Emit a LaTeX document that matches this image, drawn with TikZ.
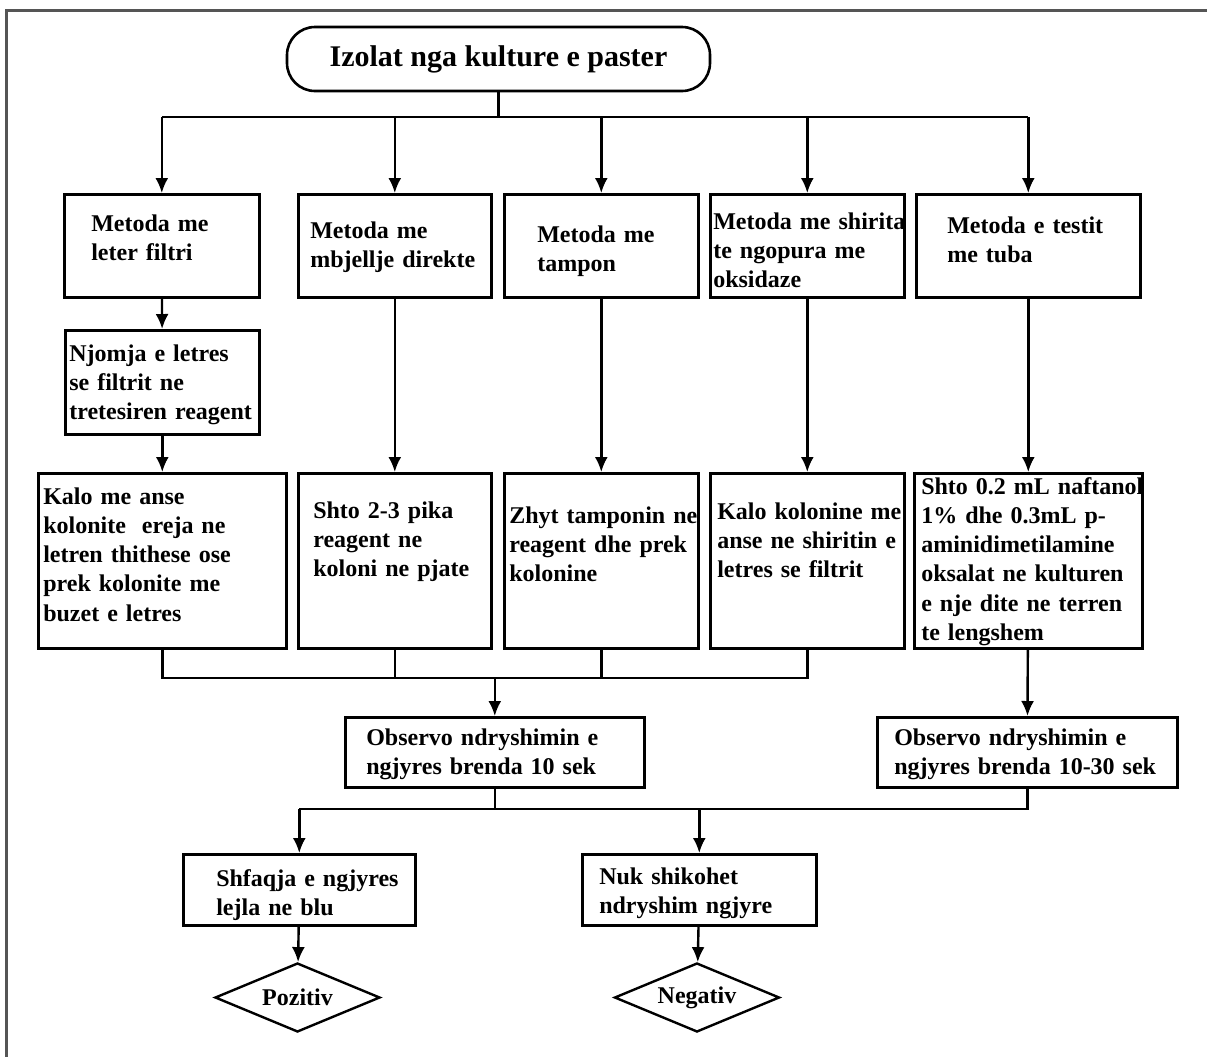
\documentclass[tikz,border=0pt]{standalone}
\usepackage{fontspec}
\setmainfont{Liberation Serif}
\usepackage{tikz}
\usetikzlibrary{positioning,calc,shapes.geometric,arrows.meta}
\definecolor{FrameGray}{RGB}{85,85,85}
\tikzset{
    flowline/.style={draw=black, line width=1.2pt},
    flowarrow/.style={flowline, -{Latex[length=7.5pt,width=6.5pt]}}
}

\begin{document}
\begin{tikzpicture}[
    x=0.5pt, y=-0.5pt,
    procbox/.style={
        rectangle,
        draw=black,
        line width=1.3pt,
        anchor=north west,
        align=left,
        inner ysep=0pt,
        execute at begin node={\hyphenpenalty=10000\exhyphenpenalty=10000},
        font=\bfseries\fontsize{12pt}{14.6pt}\selectfont
    },
    startnode/.style={
        rectangle,
        rounded corners=14pt,
        draw=black,
        line width=1.3pt,
        minimum width=211.5pt,
        minimum height=32pt,
        font=\bfseries\fontsize{15pt}{18pt}\selectfont
    },
    resultnode/.style={
        diamond,
        aspect=2.4,
        draw=black,
        line width=1.2pt,
        inner sep=0pt,
        minimum width=82.5pt,
        minimum height=34.5pt,
        font=\bfseries\fontsize{12pt}{14pt}\selectfont
    }
]
    \useasboundingbox (0,0) rectangle (1207,1057);
    \draw[FrameGray, line width=1.5pt] (1207,10) -- (6,10) -- (6,1057);

    % start
    \node[startnode] (isolate) at (498.5,59) {Izolat nga kulture e paster};

    % methods
    \node[procbox, text width=70.5pt, inner xsep=13.5pt, text height=18.5pt, text depth=33pt] (m1) at (63,193) {Metoda me\\leter filtri};
    \node[procbox, text width=84.5pt, inner xsep=6pt, text height=22pt, text depth=29.5pt] (m2) at (297,193) {Metoda me\\mbjellje direkte};
    \node[procbox, text width=64pt, inner xsep=16.5pt, text height=24pt, text depth=27.5pt] (m3) at (503,193) {Metoda me\\tampon};
    \node[procbox, text width=94pt, inner xsep=1.5pt, text height=17.5pt, text depth=34pt] (m4) at (709,193) {\mbox{Metoda me shirita}\\te ngopura me\\oksidaze};
    \node[procbox, text width=81pt, inner xsep=15.5pt, text height=19.5pt, text depth=32pt] (m5) at (915,193) {Metoda e testit\\me tuba};

    \node[procbox, text width=93pt, inner xsep=2pt, text height=15.5pt, text depth=36.5pt] (soak) at (64,329) {Njomja e letres\\se filtrit ne\\\mbox{tretesiren reagent}};

    % steps
    \node[procbox, text width=119pt, inner xsep=2.5pt, text height=15.5pt, text depth=72pt] (k1) at (37,472) {Kalo me anse\\kolonite~ ereja ne\\letren thithese ose\\prek kolonite me\\buzet e letres};
    \node[procbox, text width=81.5pt, inner xsep=7.5pt, text height=22.5pt, text depth=65pt] (k2) at (297,472) {Shto 2-3 pika\\reagent ne\\koloni ne pjate};
    \node[procbox, text width=92pt, inner xsep=2.5pt, text height=25pt, text depth=62.5pt] (k3) at (503,472) {\mbox{Zhyt tamponin ne}\\reagent dhe prek\\kolonine};
    \node[procbox, text width=90pt, inner xsep=3.5pt, text height=23pt, text depth=64.5pt] (k4) at (709,472) {\mbox{Kalo kolonine me}\\\mbox{anse ne shiritin e}\\letres se filtrit};
    \node[procbox, text width=107pt, inner xsep=3.5pt, text height=10.5pt, text depth=77pt] (k5) at (913,472) {\mbox{Shto 0.2 mL naftanol}\\1\% dhe 0.3mL p-\\aminidimetilamine\\oksalat ne kulturen\\e nje dite ne terren\\te lengshem};

    % observe
    \node[procbox, text width=128.5pt, inner xsep=10.5pt, text height=14pt, text depth=21pt] (obs1) at (344,716) {Observo ndryshimin e\\ngjyres brenda 10 sek};
    \node[procbox, text width=133pt, inner xsep=8.5pt, text height=14pt, text depth=21pt] (obs2) at (876,716) {Observo ndryshimin e\\\mbox{ngjyres brenda 10-30 sek}};

    % outcome
    \node[procbox, text width=83pt, inner xsep=16.5pt, text height=16pt, text depth=19.5pt] (blue) at (182,853) {\mbox{Shfaqja e ngjyres}\\lejla ne blu};
    \node[procbox, text width=100pt, inner xsep=8.5pt, text height=15pt, text depth=20.5pt] (nochange) at (581,853) {Nuk shikohet\\ndryshim ngjyre};

    \node[resultnode] (pos) at (297.5,997.5) {Pozitiv};
    \node[resultnode] (neg) at (697,997.5) {Negativ};

    % junctions
    \coordinate (hub1) at (0,117);
    \coordinate (hub2) at (0,678);
    \coordinate (hub3) at (0,809);

    \draw[flowline] (isolate.south) -- (isolate.south |- hub1);
    \draw[flowline] (m1 |- hub1) -- (m5 |- hub1);
    \foreach \n in {m1,m2,m3,m4,m5}
        \draw[flowarrow] (\n |- hub1) -- (\n.north);

    \draw[flowarrow] (m1) -- (soak);
    \draw[flowarrow] (soak) -- (k1);
    \draw[flowarrow] (m2) -- (k2);
    \draw[flowarrow] (m3) -- (k3);
    \draw[flowarrow] (m4) -- (k4);
    \draw[flowarrow] (m5) -- (k5);

    \draw[flowline] (k1.south) -- (k1.south |- hub2) -- (k4.south |- hub2) -- (k4.south);
    \draw[flowline] (k2.south) -- (k2.south |- hub2);
    \draw[flowline] (k3.south) -- (k3.south |- hub2);
    \draw[flowarrow] (obs1.north |- hub2) -- (obs1.north);
    \draw[flowarrow] (k5) -- (obs2);

    \draw[flowline] (obs1.south) -- (obs1.south |- hub3);
    \draw[flowline] (obs2.south) -- (obs2.south |- hub3) -- (blue.north |- hub3);
    \draw[flowarrow] (blue.north |- hub3) -- (blue.north);
    \draw[flowarrow] (nochange.north |- hub3) -- (nochange.north);

    \draw[flowarrow] (blue) -- (pos);
    \draw[flowarrow] (nochange) -- (neg);
\end{tikzpicture}
\end{document}
